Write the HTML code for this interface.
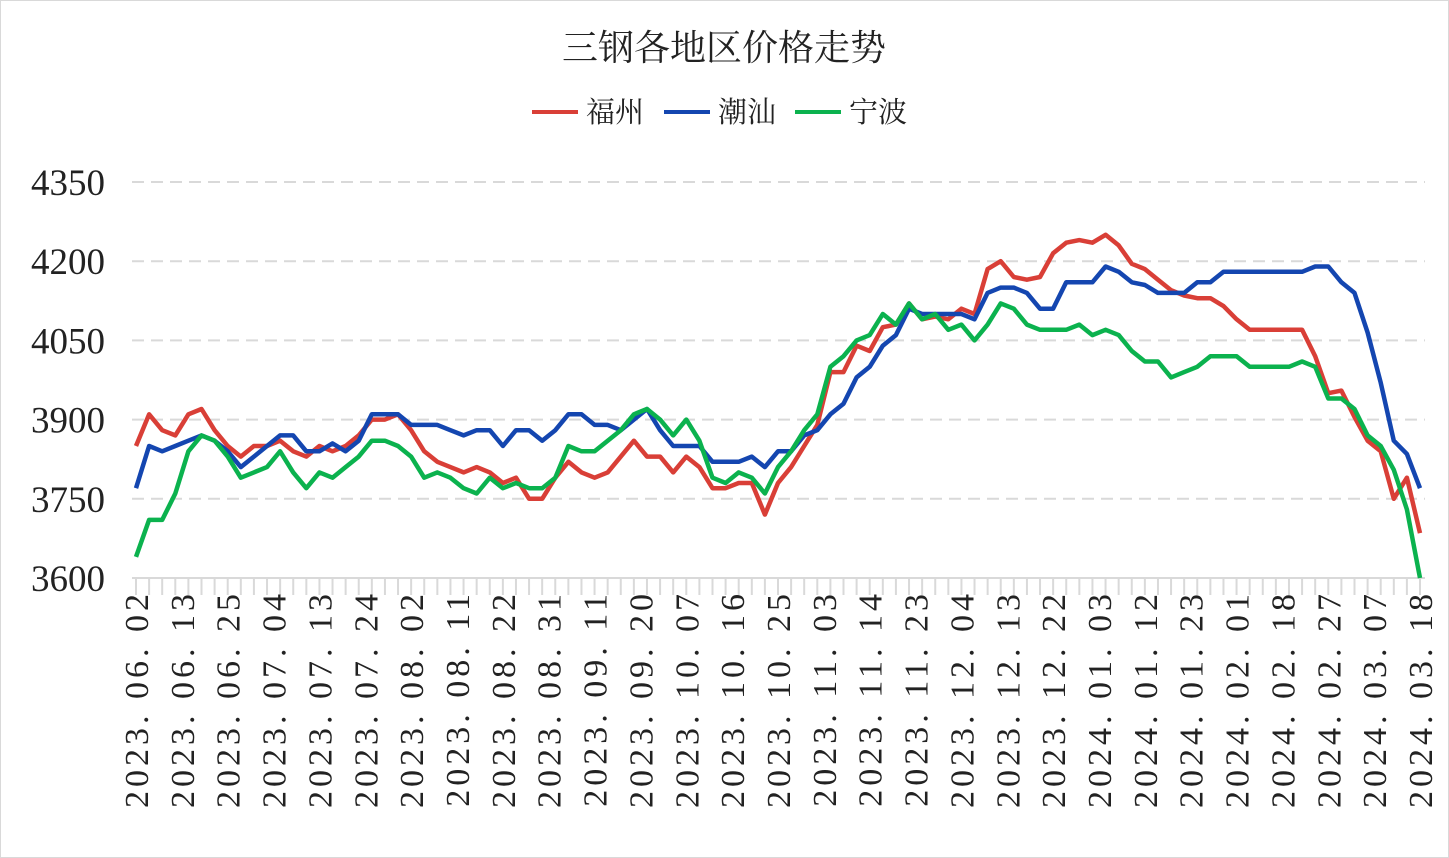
<!DOCTYPE html>
<html><head><meta charset="utf-8"><style>
body{margin:0;background:#fff}
svg{display:block}
</style></head><body>
<svg id="chart" width="1449" height="858" viewBox="0 0 1449 858" xmlns="http://www.w3.org/2000/svg">
<rect x="0.5" y="0.5" width="1448" height="857" fill="#fff" stroke="#d9d9d9"/>
<text x="724" y="60" text-anchor="middle" font-family="'Liberation Serif','Noto Serif CJK SC',serif" font-size="36" fill="#222">三钢各地区价格走势</text>
<g font-family="'Liberation Serif','Noto Serif CJK SC',serif" font-size="29" fill="#222">
 <g><line x1="532" y1="112" x2="578" y2="112" stroke="#d93f37" stroke-width="4"/><text x="586" y="122">福州</text></g>
 <g><line x1="664" y1="112" x2="710" y2="112" stroke="#1446b0" stroke-width="4"/><text x="718" y="122">潮汕</text></g>
 <g><line x1="795" y1="112" x2="841" y2="112" stroke="#0bb24e" stroke-width="4"/><text x="849" y="122">宁波</text></g>
</g>
<g id="grid"></g><g id="yaxis"></g><g id="xaxis"></g><g id="series"></g>
</svg>
<script>
const yTicks=[3600,3750,3900,4050,4200,4350];
const xLabels=["2023. 06. 02","2023. 06. 13","2023. 06. 25","2023. 07. 04","2023. 07. 13","2023. 07. 24","2023. 08. 02","2023. 08. 11","2023. 08. 22","2023. 08. 31","2023. 09. 11","2023. 09. 20","2023. 10. 07","2023. 10. 16","2023. 10. 25","2023. 11. 03","2023. 11. 14","2023. 11. 23","2023. 12. 04","2023. 12. 13","2023. 12. 22","2024. 01. 03","2024. 01. 12","2024. 01. 23","2024. 02. 01","2024. 02. 18","2024. 02. 27","2024. 03. 07","2024. 03. 18"];
const fuzhou=[3850,3910,3880,3870,3910,3920,3880,3850,3830,3850,3850,3860,3840,3830,3850,3840,3850,3870,3900,3900,3910,3880,3840,3820,3810,3800,3810,3800,3780,3790,3750,3750,3790,3820,3800,3790,3800,3830,3860,3830,3830,3800,3830,3810,3770,3770,3780,3780,3720,3780,3810,3850,3890,3990,3990,4040,4030,4075,4080,4120,4090,4095,4090,4110,4100,4185,4200,4170,4165,4170,4215,4235,4240,4235,4250,4230,4195,4185,4165,4145,4135,4130,4130,4115,4090,4070,4070,4070,4070,4070,4020,3950,3955,3905,3860,3840,3750,3790,3685];
const chaoshan=[3770,3850,3840,3850,3860,3870,3860,3840,3810,3830,3850,3870,3870,3840,3840,3855,3840,3860,3910,3910,3910,3890,3890,3890,3880,3870,3880,3880,3850,3880,3880,3860,3880,3910,3910,3890,3890,3880,3900,3920,3880,3850,3850,3850,3820,3820,3820,3830,3810,3840,3840,3870,3880,3910,3930,3980,4000,4040,4060,4110,4100,4100,4100,4100,4090,4140,4150,4150,4140,4110,4110,4160,4160,4160,4190,4180,4160,4155,4140,4140,4140,4160,4160,4180,4180,4180,4180,4180,4180,4180,4190,4190,4160,4140,4065,3970,3860,3835,3770];
const ningbo=[3640,3710,3710,3760,3840,3870,3860,3830,3790,3800,3810,3840,3800,3770,3800,3790,3810,3830,3860,3860,3850,3830,3790,3800,3790,3770,3760,3790,3770,3780,3770,3770,3790,3850,3840,3840,3860,3880,3910,3920,3900,3870,3900,3860,3790,3780,3800,3790,3760,3810,3840,3880,3910,4000,4020,4050,4060,4100,4080,4120,4090,4100,4070,4080,4050,4080,4120,4110,4080,4070,4070,4070,4080,4060,4070,4060,4030,4010,4010,3980,3990,4000,4020,4020,4020,4000,4000,4000,4000,4010,4000,3940,3940,3920,3870,3850,3805,3730,3600];
const NS="http://www.w3.org/2000/svg";
const X0=136,X1=1420,YTOP=182,YBOT=578,VMIN=3600,VMAX=4350;
const yScale=v=>YBOT-(v-VMIN)/(VMAX-VMIN)*(YBOT-YTOP);
const xScale=i=>X0+i*(X1-X0)/(fuzhou.length-1);
const lblX=i=>X0+i*(X1-X0)/(xLabels.length-1);
function mk(t,a,p){const e=document.createElementNS(NS,t);for(const k in a)e.setAttribute(k,a[k]);p.appendChild(e);return e;}
const grid=document.getElementById('grid'),ya=document.getElementById('yaxis'),xa=document.getElementById('xaxis'),sr=document.getElementById('series');
yTicks.forEach(v=>{
 const y=yScale(v);
 if(v>VMIN){const l=mk('line',{x1:X0-4,x2:1425,y1:y,y2:y,stroke:'#d9d9d9','stroke-width':2,'stroke-dasharray':'12,7'},grid);
 
 }
 const t=mk('text',{x:105,y:y+13,'text-anchor':'end','font-family':"'Liberation Serif',serif",'font-size':37,fill:'#222'},ya);
 t.textContent=v;
 
 
});
const ax=mk('line',{x1:X0-4,x2:1425,y1:YBOT,y2:YBOT,stroke:'#d9d9d9','stroke-width':2},xa);


for(let i=0;i<fuzhou.length;i++){
 const x=xScale(i);
 const tk=mk('line',{x1:x,x2:x,y1:YBOT,y2:YBOT+17,stroke:'#d9d9d9','stroke-width':2},xa);
 
 
}
xLabels.forEach((s,i)=>{
 const x=lblX(i)+12,y=590;
 const t=mk('text',{x:x,y:y,transform:`rotate(-90 ${x} ${y})`,'text-anchor':'end','font-family':"'Liberation Serif',serif",'font-size':34,'letter-spacing':'4',fill:'#222'},xa);
 t.textContent=s;
 
 
});
[[fuzhou,'#d93f37','series-fuzhou'],[chaoshan,'#1446b0','series-chaoshan'],[ningbo,'#0bb24e','series-ningbo']].forEach(([d,c,n])=>{
 const p=mk('polyline',{points:d.map((v,i)=>xScale(i).toFixed(1)+','+yScale(v).toFixed(1)).join(' '),fill:'none',stroke:c,'stroke-width':4.5,'stroke-linejoin':'round'},sr);
 
 
});
</script>
</body></html>
